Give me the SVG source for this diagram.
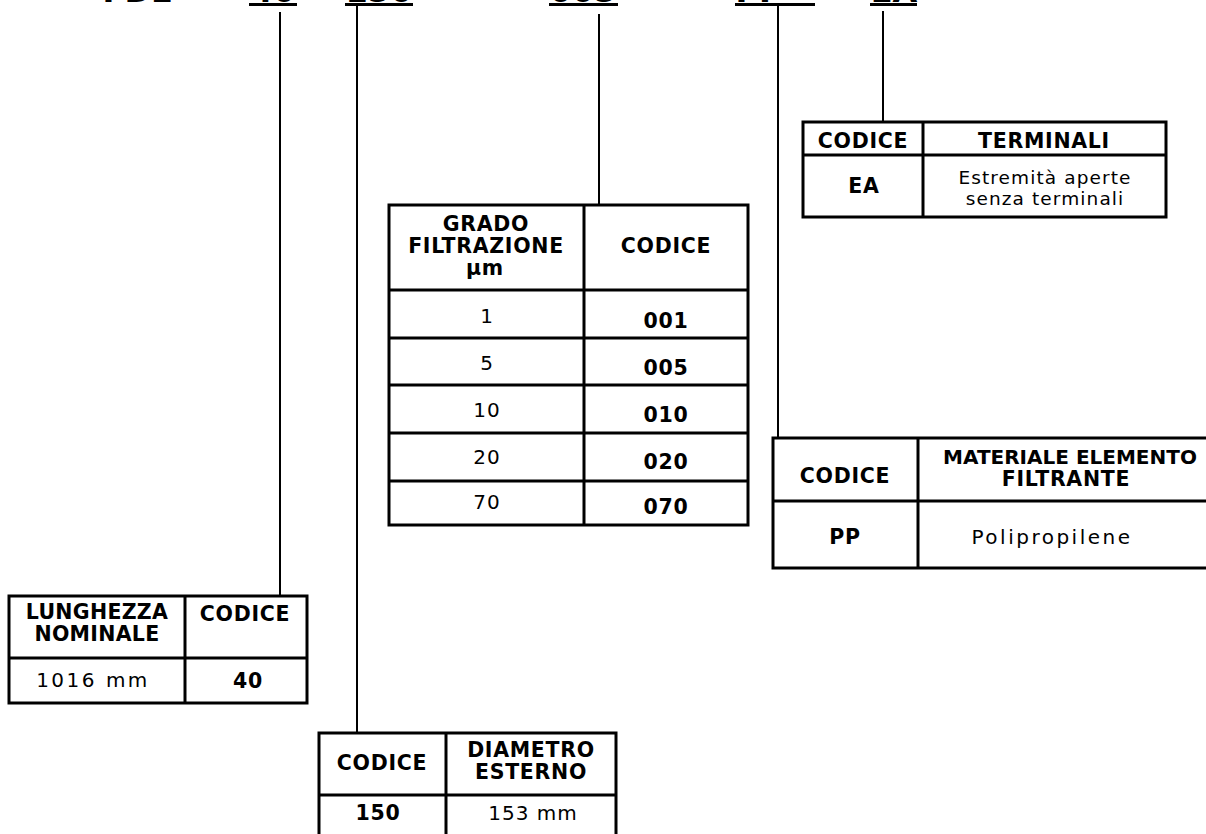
<svg xmlns="http://www.w3.org/2000/svg" width="1206" height="834" viewBox="0 0 1206 834">
<style>
text { font-family: "DejaVu Sans", Verdana, sans-serif; fill: #000; text-anchor: middle; }
.b { font-weight: bold; font-size: 20.5px; letter-spacing: 0.7px; }
.bn { font-size: 20px; letter-spacing: 0; }
.bl { letter-spacing: 0.3px; }
.r { font-weight: normal; font-size: 20px; letter-spacing: 1px; }
.rw { letter-spacing: 2.5px; }
.rn { font-size: 18.5px; letter-spacing: 1.1px; }
.code { font-weight: bold; font-size: 32px; }
.tbl { fill: #fff; stroke: #000; stroke-width: 3; }
.div { stroke: #000; stroke-width: 3; fill: none; }
.conn { stroke: #000; stroke-width: 2; fill: none; }
.ul { fill: #000; }
</style>
<rect width="1206" height="834" fill="#fff"/>

<g id="code">
  <text class="code" x="137" y="2">FDL</text>
  <text class="code" x="273" y="2">40</text>
  <text class="code" x="379" y="2">150</text>
  <text class="code" x="583" y="2">005</text>
  <text class="code" x="759" y="2">PP</text>
  <text class="code" x="894" y="2">EA</text>
  <rect class="ul" x="249" y="3" width="48" height="3"/>
  <rect class="ul" x="345" y="3" width="68" height="3"/>
  <rect class="ul" x="549" y="3" width="69" height="3"/>
  <rect class="ul" x="735" y="3" width="80" height="3"/>
  <rect class="ul" x="870" y="3" width="47" height="3"/>
</g>

<g id="connectors">
  <line class="conn" x1="280" y1="12" x2="280" y2="596"/>
  <line class="conn" x1="357" y1="5" x2="357" y2="733"/>
  <line class="conn" x1="599" y1="14" x2="599" y2="205"/>
  <line class="conn" x1="778" y1="5" x2="778" y2="438"/>
  <line class="conn" x1="883" y1="11" x2="883" y2="122"/>
</g>

<g id="lunghezza">
  <rect class="tbl" x="9" y="596" width="298" height="107"/>
  <line class="div" x1="185" y1="596" x2="185" y2="703"/>
  <line class="div" x1="9" y1="658" x2="307" y2="658"/>
  <text class="b bl" x="97" y="619">LUNGHEZZA</text>
  <text class="b bl" x="97" y="641">NOMINALE</text>
  <text class="b" x="245" y="621">CODICE</text>
  <text class="r rw" x="93" y="687">1016 mm</text>
  <text class="b" x="248" y="688">40</text>
</g>

<g id="diametro">
  <rect class="tbl" x="319" y="733" width="297" height="200"/>
  <line class="div" x1="446" y1="733" x2="446" y2="834"/>
  <line class="div" x1="319" y1="795" x2="616" y2="795"/>
  <text class="b" x="382" y="770">CODICE</text>
  <text class="b" x="531" y="757">DIAMETRO</text>
  <text class="b" x="531" y="779">ESTERNO</text>
  <text class="b" x="378" y="820">150</text>
  <text class="r" x="533" y="820">153 mm</text>
</g>

<g id="grado">
  <rect class="tbl" x="389" y="205" width="359" height="320"/>
  <line class="div" x1="584" y1="205" x2="584" y2="525"/>
  <line class="div" x1="389" y1="290" x2="748" y2="290"/>
  <line class="div" x1="389" y1="338" x2="748" y2="338"/>
  <line class="div" x1="389" y1="385" x2="748" y2="385"/>
  <line class="div" x1="389" y1="433" x2="748" y2="433"/>
  <line class="div" x1="389" y1="481" x2="748" y2="481"/>
  <text class="b" x="486" y="231">GRADO</text>
  <text class="b" x="486" y="253">FILTRAZIONE</text>
  <text class="b" x="485" y="275">µm</text>
  <text class="b" x="666" y="253">CODICE</text>
  <text class="r" x="487" y="323">1</text>
  <text class="b" x="666" y="328">001</text>
  <text class="r" x="487" y="370">5</text>
  <text class="b" x="666" y="375">005</text>
  <text class="r" x="487" y="417">10</text>
  <text class="b" x="666" y="422">010</text>
  <text class="r" x="487" y="464">20</text>
  <text class="b" x="666" y="469">020</text>
  <text class="r" x="487" y="509">70</text>
  <text class="b" x="666" y="514">070</text>
</g>

<g id="materiale">
  <rect class="tbl" x="773" y="438" width="500" height="130"/>
  <line class="div" x1="918" y1="438" x2="918" y2="568"/>
  <line class="div" x1="773" y1="501" x2="1273" y2="501"/>
  <text class="b" x="845" y="483">CODICE</text>
  <text class="b bn" x="1070" y="464">MATERIALE ELEMENTO</text>
  <text class="b" x="1066" y="486">FILTRANTE</text>
  <text class="b" x="845" y="544">PP</text>
  <text class="r rw" x="1052" y="544">Polipropilene</text>
</g>

<g id="terminali">
  <rect class="tbl" x="803" y="122" width="363" height="95"/>
  <line class="div" x1="923" y1="122" x2="923" y2="217"/>
  <line class="div" x1="803" y1="155" x2="1166" y2="155"/>
  <text class="b" x="863" y="148">CODICE</text>
  <text class="b" x="1044" y="148">TERMINALI</text>
  <text class="b" x="864" y="193">EA</text>
  <text class="r rn" x="1045" y="184">Estremità aperte</text>
  <text class="r rn" x="1045" y="205">senza terminali</text>
</g>
</svg>
